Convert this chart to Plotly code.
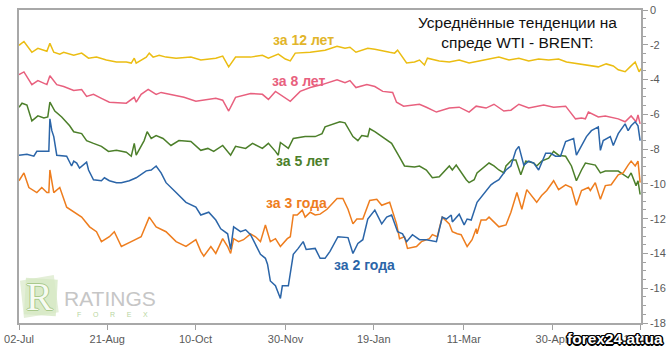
import numpy as np
import pandas as pd
import plotly.graph_objects as go

START = pd.Timestamp("2010-07-02")

tick_dates = ["2010-07-02", "2010-08-21", "2010-10-10", "2010-11-30",
              "2011-01-19", "2011-03-11", "2011-04-30", "2011-06-19"]
tick_labels = ["02-Jul", "21-Aug", "10-Oct", "30-Nov", "19-Jan", "11-Mar", "30-Apr", "19-Jun"]
y_ticks = [0, -2, -4, -6, -8, -10, -12, -14, -16, -18]

# ---- series: day offsets from 02-Jul and spread values ----
y12_days = [0, 2.8, 7.3, 10.7, 15.8, 17.5, 19.7, 23.1, 25.3, 31.0, 35.5, 39.4, 43.9, 49.5, 55.2, 60.8,
            63.6, 65.3, 66.4, 72.1, 73.8, 76.0, 79.4, 83.3, 89.0, 97.4, 103.0, 111.5, 115.4, 118.8,
            122.7, 131.2, 137.9, 141.3, 146.9, 150.9, 153.7, 156.5, 165.0, 173.4, 180.2, 184.7, 187.5,
            190.9, 197.6, 201.6, 210.0, 212.8, 214.5, 219.6, 224.1, 226.9, 229.7, 231.4, 238.1, 243.8,
            249.4, 255.0, 260.7, 266.3, 271.9, 277.6, 283.2, 288.8, 294.4, 300.1, 305.7, 310.2, 314.2,
            319.8, 325.4, 328.2, 332.7, 336.7, 339.5, 343.4, 346.2, 349.1, 351.3, 352.4]
y12_vals = [-2.03, -1.81, -2.43, -2.20, -2.37, -1.92, -2.43, -2.54, -2.43, -2.60, -2.48, -2.77, -2.71,
            -2.88, -2.99, -2.99, -3.05, -2.77, -3.05, -2.71, -2.48, -2.71, -2.60, -2.71, -2.77, -2.71,
            -2.88, -2.77, -2.65, -3.27, -2.71, -2.71, -2.60, -2.77, -2.54, -2.82, -2.93, -2.48, -2.43,
            -2.31, -2.09, -2.20, -2.14, -2.43, -2.20, -2.26, -2.43, -2.48, -2.31, -3.05, -2.99, -2.88,
            -3.16, -2.77, -2.93, -2.99, -2.88, -3.05, -2.93, -2.82, -2.71, -2.88, -2.77, -2.93, -2.82,
            -2.88, -2.82, -2.99, -3.05, -3.16, -3.22, -3.27, -3.10, -3.22, -3.44, -3.55, -3.27, -2.99,
            -3.55, -3.38]

y8_days = [0, 2.8, 7.3, 10.7, 15.8, 17.5, 21.4, 25.3, 31.0, 35.5, 38.3, 42.2, 46.7, 51.2, 60.8, 65.3,
           66.4, 69.2, 73.2, 77.7, 80.5, 86.1, 93.5, 100.2, 107.5, 111.5, 115.4, 118.8, 122.7, 131.2,
           137.9, 141.3, 145.3, 152.6, 153.7, 159.3, 165.0, 171.7, 180.2, 184.7, 187.5, 190.9, 197.1,
           201.6, 206.1, 211.7, 213.9, 217.9, 226.9, 230.8, 236.5, 243.8, 249.4, 255.0, 259.0, 264.6,
           269.1, 274.7, 278.7, 283.2, 288.8, 297.3, 302.9, 309.7, 315.3, 318.7, 320.9, 322.6, 328.2,
           332.2, 336.7, 339.5, 343.4, 346.8, 349.6, 350.7, 351.9]
y8_vals = [-3.72, -3.56, -4.29, -4.06, -4.29, -3.78, -4.29, -4.40, -4.63, -4.57, -4.97, -4.85, -5.08,
           -5.30, -5.36, -5.02, -5.30, -4.85, -4.57, -4.85, -4.74, -4.85, -5.02, -5.25, -5.14, -5.08,
           -5.19, -5.81, -5.02, -4.80, -4.85, -5.14, -4.68, -5.14, -5.25, -4.68, -4.46, -4.29, -4.01,
           -4.18, -4.06, -4.46, -4.29, -4.40, -4.68, -4.74, -5.30, -5.53, -5.42, -5.59, -5.87, -5.64,
           -5.59, -5.87, -5.53, -5.64, -5.42, -5.81, -5.76, -5.42, -5.64, -5.47, -5.59, -5.53, -6.26,
           -6.21, -6.26, -5.87, -6.15, -6.09, -6.21, -6.26, -6.43, -6.09, -6.43, -6.04, -6.55]

y5_days = [0, 1.7, 4.5, 7.3, 10.7, 14.1, 16.3, 17.5, 20.3, 24.2, 28.7, 31.0, 35.5, 38.3, 42.2, 46.7,
           50.7, 55.2, 60.8, 63.6, 65.3, 66.4, 70.9, 72.6, 74.9, 77.7, 81.6, 86.1, 90.6, 97.4, 103.0,
           107.0, 110.3, 115.4, 119.9, 122.7, 128.4, 132.3, 137.9, 141.3, 145.3, 146.9, 148.1, 152.6,
           155.4, 162.1, 167.8, 171.7, 173.4, 177.9, 181.8, 184.7, 187.5, 189.2, 192.0, 194.2, 197.6,
           198.7, 201.6, 208.3, 211.1, 215.6, 218.4, 224.1, 226.9, 230.8, 234.2, 238.1, 243.8, 245.5,
           247.7, 253.4, 255.0, 257.9, 259.5, 266.3, 269.1, 271.9, 274.7, 275.9, 279.2, 281.5, 284.3,
           287.1, 291.6, 293.3, 296.1, 300.1, 302.9, 305.7, 309.7, 313.0, 315.8, 318.7, 320.9, 326.5,
           329.4, 332.2, 339.5, 345.1, 346.8, 349.6, 350.7, 351.9]
y5_vals = [-5.59, -5.36, -5.47, -6.38, -6.09, -6.21, -6.15, -5.30, -5.81, -6.15, -6.66, -7.00, -7.11,
           -7.51, -7.67, -7.84, -8.13, -8.07, -8.18, -8.41, -7.67, -8.35, -7.51, -7.00, -7.39, -7.22,
           -7.39, -7.79, -7.51, -7.56, -8.07, -7.96, -8.13, -7.79, -8.35, -7.84, -7.96, -7.67, -7.96,
           -7.67, -8.13, -8.35, -7.62, -7.96, -7.39, -7.28, -7.28, -7.11, -6.72, -6.55, -6.43, -6.49,
           -6.94, -7.28, -7.51, -7.22, -7.28, -6.83, -7.00, -7.51, -7.67, -8.46, -8.97, -9.03, -8.97,
           -9.20, -9.65, -9.59, -8.97, -9.20, -8.92, -9.76, -9.93, -9.76, -9.37, -8.80, -8.97, -9.20,
           -9.37, -8.97, -8.63, -8.63, -9.48, -8.69, -8.80, -8.97, -8.69, -8.52, -8.13, -8.35, -8.41,
           -8.97, -9.82, -9.20, -8.80, -8.92, -9.37, -9.26, -9.26, -9.65, -9.37, -10.10, -9.82, -10.61]

y3_days = [0, 2.8, 5.6, 10.1, 12.9, 15.8, 16.9, 17.5, 19.7, 23.1, 27.0, 31.0, 35.5, 40.0, 43.9, 46.7,
           51.2, 54.0, 58.0, 63.6, 69.2, 73.8, 77.7, 83.3, 89.0, 94.6, 100.2, 103.0, 104.7, 108.7,
           111.5, 115.4, 118.2, 119.9, 121.6, 124.4, 127.2, 131.2, 134.0, 136.8, 139.6, 142.4, 145.3,
           148.1, 152.0, 153.7, 155.4, 157.6, 160.5, 162.1, 165.0, 167.8, 170.6, 174.5, 177.3, 180.2,
           183.5, 186.4, 189.2, 191.4, 194.8, 198.7, 202.7, 205.5, 210.0, 213.9, 215.6, 218.4, 220.1,
           225.2, 228.0, 232.5, 234.2, 237.0, 238.1, 239.8, 243.8, 245.5, 248.3, 250.5, 253.9, 256.7,
           259.0, 259.5, 261.8, 264.6, 266.3, 269.1, 271.9, 275.9, 278.7, 282.1, 284.9, 287.7, 290.5,
           293.3, 296.1, 299.0, 302.9, 305.7, 309.7, 313.0, 315.8, 318.7, 322.6, 323.7, 326.5, 329.4,
           332.2, 335.5, 339.5, 342.3, 345.1, 346.8, 349.1, 350.7, 351.9]
y3_vals = [-9.82, -9.37, -10.21, -10.50, -10.21, -10.50, -10.50, -9.20, -10.50, -10.21, -11.34, -11.63,
           -11.91, -12.47, -12.75, -13.32, -13.04, -12.75, -13.60, -13.32, -13.04, -11.91, -12.47, -12.75,
           -13.32, -13.60, -13.21, -13.88, -14.16, -13.60, -14.00, -13.15, -13.60, -14.00, -13.15, -13.32,
           -13.21, -12.87, -13.04, -13.32, -12.36, -13.32, -13.15, -13.60, -13.15, -13.04, -11.79, -11.79,
           -11.51, -11.91, -11.63, -11.79, -11.74, -11.46, -11.17, -10.84, -10.84, -11.46, -12.30, -12.02,
           -12.02, -10.95, -10.89, -11.23, -11.06, -12.30, -13.15, -13.04, -13.71, -13.60, -13.32, -13.15,
           -12.92, -13.04, -12.58, -11.91, -12.30, -12.75, -12.87, -12.92, -13.60, -13.21, -12.58, -12.87,
           -12.08, -12.08, -11.91, -12.19, -12.47, -12.36, -11.63, -10.50, -11.46, -10.33, -10.67, -11.06,
           -10.67, -10.38, -9.82, -10.33, -10.05, -10.21, -11.23, -10.38, -10.21, -10.38, -9.93, -10.89,
           -10.10, -10.05, -9.48, -9.37, -8.92, -8.69, -8.97, -8.69, -9.93]

y2_days = [0, 4.5, 8.4, 10.1, 15.8, 16.9, 17.5, 18.6, 19.7, 21.4, 27.0, 29.8, 31.0, 32.7, 34.3, 36.6,
           38.3, 39.4, 42.2, 46.7, 48.4, 51.2, 55.2, 58.0, 62.5, 66.4, 72.1, 74.9, 77.7, 80.5, 83.3,
           89.0, 94.6, 100.2, 103.0, 107.5, 111.5, 114.3, 118.2, 119.9, 121.6, 125.5, 128.4, 131.2,
           134.0, 136.8, 139.6, 140.8, 142.4, 145.3, 148.1, 149.2, 152.6, 155.4, 158.2, 161.0, 162.7,
           167.8, 170.6, 173.4, 176.2, 179.0, 180.7, 186.4, 188.6, 189.2, 192.0, 194.8, 197.6, 201.6,
           205.5, 208.3, 211.1, 214.5, 217.3, 219.6, 222.9, 226.9, 230.8, 236.5, 239.8, 242.1, 244.9,
           245.5, 249.4, 252.2, 253.9, 256.2, 259.5, 262.4, 264.6, 267.4, 269.1, 271.9, 275.9, 278.7,
           281.5, 283.2, 286.0, 288.8, 291.6, 294.4, 298.4, 301.2, 304.0, 306.8, 309.7, 314.2, 315.8,
           318.7, 321.5, 324.3, 328.2, 329.4, 331.0, 335.0, 336.7, 339.5, 343.4, 345.1, 346.8, 349.1,
           350.7, 351.9]
y2_vals = [-8.35, -8.30, -8.41, -8.13, -8.13, -8.13, -6.26, -6.94, -7.28, -8.35, -8.41, -8.97, -8.69,
           -8.80, -9.09, -8.92, -8.75, -9.20, -9.76, -9.82, -9.65, -9.82, -9.93, -9.93, -9.82, -9.65,
           -9.25, -9.20, -8.97, -9.37, -9.93, -10.50, -11.06, -11.34, -11.79, -11.63, -12.08, -12.58,
           -12.87, -13.77, -12.47, -12.75, -12.64, -12.92, -13.49, -14.05, -14.28, -14.62, -15.58,
           -15.86, -16.59, -15.86, -15.86, -14.05, -13.71, -13.32, -13.77, -13.71, -14.28, -14.28,
           -13.88, -13.32, -13.04, -13.09, -13.88, -14.00, -13.43, -13.21, -12.02, -11.51, -12.30,
           -11.91, -11.79, -12.75, -12.87, -13.32, -12.92, -13.21, -13.21, -13.32, -11.91, -12.02,
           -11.79, -12.19, -11.74, -12.36, -12.02, -12.08, -11.06, -10.67, -10.38, -10.05, -9.93, -9.76,
           -9.20, -8.97, -8.07, -7.84, -8.92, -8.69, -8.80, -9.20, -8.24, -8.24, -8.41, -8.41, -7.56,
           -7.39, -8.35, -7.79, -7.28, -6.94, -6.72, -8.07, -7.51, -7.28, -7.79, -7.11, -6.55, -6.94,
           -6.66, -6.43, -6.66, -7.51]

series = [
    ("за 12 лет", y12_days, y12_vals, "#EBBD12"),
    ("за 8 лет", y8_days, y8_vals, "#E8607E"),
    ("за 5 лет", y5_days, y5_vals, "#4C7F2A"),
    ("за 3 года", y3_days, y3_vals, "#EE7D1E"),
    ("за 2 года", y2_days, y2_vals, "#2B65A8"),
]

W, H = 670, 356
L, R, T, B = 17, 27, 4, 33
PW, PH = W - L - R, H - T - B


def px(x):
    return (x - L) / PW


def py(y):
    return (H - B - y) / PH


fig = go.Figure()
for name, days, vals, color in series:
    dates = START + pd.to_timedelta(np.array(days), unit="D")
    fig.add_trace(go.Scatter(x=dates, y=vals, mode="lines", name=name,
                             line=dict(color=color, width=1.5), showlegend=False,
                             hoverinfo="skip"))

tickfont = dict(family="Liberation Sans, Arial, sans-serif", size=11, color="#5a5a5a")

fig.update_xaxes(
    type="date",
    range=[START, START + pd.Timedelta(days=352.4)],
    tickmode="array", tickvals=tick_dates, ticktext=tick_labels,
    ticks="outside", ticklen=5, tickcolor="#a0a0a0", tickwidth=1,
    showline=True, linecolor="#a8a8a8", linewidth=2, mirror=True,
    showgrid=False, zeroline=False, tickfont=tickfont,
)
fig.update_yaxes(
    side="right", range=[-18, 0],
    tickmode="array", tickvals=y_ticks, ticktext=[str(v) for v in y_ticks],
    ticks="outside", ticklen=5, tickcolor="#a0a0a0", tickwidth=1,
    minor=dict(tickvals=list(np.arange(-18, 0.01, 0.5)), ticks="outside", ticklen=3,
               tickcolor="#a0a0a0", tickwidth=1),
    showline=True, linecolor="#a8a8a8", linewidth=1.5, mirror=True,
    showgrid=False, zeroline=False, tickfont=tickfont, ticklabeloverflow="allow",
)

ann = []
lab_font = "Arial, Liberation Sans, sans-serif"
labels = [
    ("за 12 лет", 303, 35, "#E2B52A"),
    ("за 8 лет", 298, 76, "#E8607E"),
    ("за 5 лет", 302, 158, "#4C7F2A"),
    ("за 3 года", 296, 201, "#EE7D1E"),
    ("за 2 года", 365, 264, "#2B65A8"),
]
for txt, cx, cy, col in labels:
    ann.append(dict(text=txt, x=px(cx), y=py(cy), xref="paper", yref="paper",
                    xanchor="center", yanchor="middle", showarrow=False,
                    font=dict(family=lab_font, size=14, color=col, weight="bold")))

ann.append(dict(text="Усреднённые тенденции на<br>спреде WTI - BRENT:", x=px(519), y=py(27),
                xref="paper", yref="paper", xanchor="center", yanchor="middle",
                showarrow=False, align="center",
                font=dict(family=lab_font, size=15.5, color="#111111")))

# logo
fig.add_shape(type="path", xref="paper", yref="paper",
              path=f"M {px(18)},{py(280)} L {px(52)},{py(274)} L {px(57)},{py(312)} L {px(22)},{py(318)} Z",
              fillcolor="#e4efd8", line=dict(width=0), layer="below")
fig.add_shape(type="path", xref="paper", yref="paper",
              path=f"M {px(24)},{py(277)} L {px(56)},{py(279)} L {px(54)},{py(316)} L {px(22)},{py(314)} Z",
              fillcolor="#d6e8c4", line=dict(width=0), layer="below", opacity=0.8)
ann.append(dict(text="R", x=px(38), y=py(296), xref="paper", yref="paper",
                xanchor="center", yanchor="middle", showarrow=False,
                font=dict(family="Liberation Serif, serif", size=40, color="#f7fbf2",
                          shadow="1px 0 0 #a9c98c, -1px 0 0 #a9c98c, 0 1px 0 #a9c98c, 0 -1px 0 #a9c98c")))
ann.append(dict(text="RATINGS", x=px(109), y=py(298), xref="paper", yref="paper",
                xanchor="center", yanchor="middle", showarrow=False,
                font=dict(family="Liberation Sans, Arial, sans-serif", size=21, color="#c6c6c6")))
ann.append(dict(text="F      O      R      E      X", x=px(111), y=py(314), xref="paper", yref="paper",
                xanchor="center", yanchor="middle", showarrow=False,
                font=dict(family="Liberation Sans, Arial, sans-serif", size=7, color="#b9d6a2")))

# watermark
ann.append(dict(text="forex24.at.ua", x=px(617), y=py(339), xref="paper", yref="paper",
                xanchor="center", yanchor="middle", showarrow=False,
                font=dict(family="Liberation Sans, Arial, sans-serif", size=15.5, color="#ffffff",
                          weight="bold",
                          shadow="-1px -1px 0 #000, 1px -1px 0 #000, -1px 1px 0 #000, 1px 1px 0 #000, 0 1.5px 0 #000, 1.5px 0 0 #000, 0 -1.5px 0 #000, -1.5px 0 0 #000")))

fig.update_layout(
    width=W, height=H, margin=dict(l=L, r=R, t=T, b=B),
    paper_bgcolor="white", plot_bgcolor="white",
    annotations=ann, hovermode=False,
)

fig.write_html("out.html", config={"displayModeBar": False},
               post_script="document.body.style.margin='0px';document.body.style.overflow='hidden';")
